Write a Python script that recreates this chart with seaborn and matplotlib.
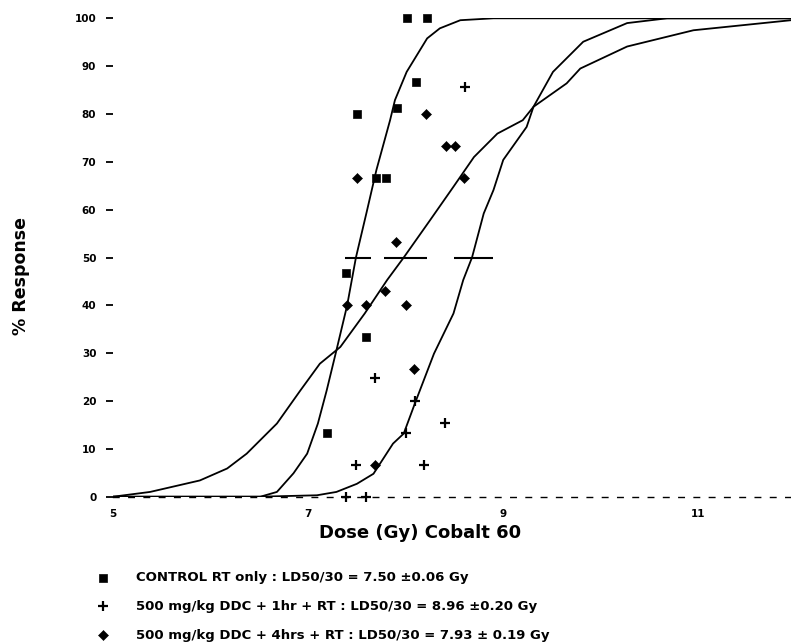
import matplotlib
matplotlib.use("Agg")
import matplotlib.pyplot as plt
import seaborn as sns

# observed points (dose in Gy, % response)
ctrl_dose = [8.01, 8.22, 8.11, 7.91, 7.50, 7.70, 7.80, 7.39, 7.59, 7.19]
ctrl_resp = [100, 100, 86.7, 81.2, 80.0, 66.7, 66.7, 46.7, 33.3, 13.3]

h1_dose = [8.61, 7.69, 8.10, 8.40, 8.00, 7.49, 8.19, 7.39, 7.59]
h1_resp = [85.7, 24.8, 20.0, 15.4, 13.3, 6.7, 6.7, 0, 0]

h4_dose = [8.21, 8.41, 8.51, 7.50, 8.60, 7.90, 7.79, 7.40, 7.59, 8.00, 8.09, 7.69]
h4_resp = [80.0, 73.3, 73.3, 66.7, 66.7, 53.3, 42.9, 40.0, 40.0, 40.0, 26.7, 6.7]

# fitted curves
ctrl_fit_x = [5.0, 6.0, 6.51, 6.68, 6.85, 6.99, 7.10, 7.19, 7.29, 7.40, 7.49, 7.60,
              7.70, 7.84, 7.89, 8.01, 8.22, 8.35, 8.56, 8.90, 11.95]
ctrl_fit_y = [0, 0, 0, 1.0, 4.9, 9.0, 15.3, 22.2, 30.6, 40.0, 50.0, 59.5,
              68.3, 78.7, 82.9, 88.8, 95.8, 97.9, 99.6, 100, 100]

h4_fit_x = [5.0, 5.38, 5.89, 6.17, 6.37, 6.68, 6.92, 7.12, 7.33, 7.58, 7.81, 7.98,
            8.25, 8.49, 8.70, 8.94, 9.20, 9.31, 9.65, 9.79, 10.27, 10.95, 11.95]
h4_fit_y = [0, 1.0, 3.4, 5.9, 9.0, 15.3, 22.2, 27.8, 31.3, 38.3, 45.3, 50.0,
            57.8, 64.8, 71.0, 75.9, 78.7, 81.5, 86.4, 89.5, 94.1, 97.5, 99.6]

h1_fit_x = [5.0, 6.5, 7.09, 7.29, 7.50, 7.67, 7.87, 7.98, 8.10, 8.29, 8.49, 8.59,
            8.68, 8.80, 8.90, 9.00, 9.24, 9.31, 9.51, 9.82, 10.27, 10.68, 11.95]
h1_fit_y = [0, 0, 0.3, 1.0, 2.7, 4.8, 11.1, 13.2, 19.8, 29.9, 38.3, 45.3,
            50.0, 59.2, 64.1, 70.4, 77.3, 81.5, 88.8, 95.1, 99.0, 100, 100]

# LD50 bars at the 50% level
ld50_lo = [7.38, 7.78, 8.50]
ld50_hi = [7.64, 8.22, 8.90]

labels = [
    "CONTROL RT only : LD50/30 = 7.50 \u00b10.06 Gy",
    "500 mg/kg DDC + 1hr + RT : LD50/30 = 8.96 \u00b10.20 Gy",
    "500 mg/kg DDC + 4hrs + RT : LD50/30 = 7.93 \u00b1 0.19 Gy",
]

sns.set_theme(style="white")
plt.rcParams["font.family"] = ["DejaVu Sans"]
plt.rcParams["font.weight"] = "bold"
plt.rcParams["text.color"] = "black"

fig = plt.figure(figsize=(7.91, 6.42), dpi=100)
ax = fig.add_axes([0.1429, 0.2263, 0.8571, 0.7452])

for fx, fy in [(ctrl_fit_x, ctrl_fit_y), (h4_fit_x, h4_fit_y), (h1_fit_x, h1_fit_y)]:
    sns.lineplot(x=fx, y=fy, ax=ax, color="black", linewidth=1.3,
                 sort=False, estimator=None)

ax.hlines([50] * len(ld50_lo), ld50_lo, ld50_hi, color="black", linewidth=1.5)

sns.scatterplot(x=ctrl_dose, y=ctrl_resp, ax=ax, marker="s", s=36, color="black",
                edgecolor="black", label=labels[0], clip_on=False, zorder=3)
sns.scatterplot(x=h1_dose, y=h1_resp, ax=ax, marker="+", s=55, color="black",
                linewidth=1.6, label=labels[1], clip_on=False, zorder=3)
sns.scatterplot(x=h4_dose, y=h4_resp, ax=ax, marker="D", s=26, color="black",
                edgecolor="black", label=labels[2], clip_on=False, zorder=3)

ax.set_xlim(5, 11.95)
ax.set_ylim(0, 100)
ax.set_xticks([5, 7, 9, 11])
ax.set_yticks(range(0, 101, 10))
ax.set_xlabel("")
ax.set_ylabel("")

for side in ["top", "right", "left"]:
    ax.spines[side].set_visible(False)
ax.spines["bottom"].set_color("black")
ax.spines["bottom"].set_linewidth(1.0)
ax.spines["bottom"].set_linestyle((0, (4, 7)))

ax.tick_params(axis="y", left=True, length=5, width=1.3, pad=7, labelsize=7.5,
               color="black", labelcolor="black")
ax.tick_params(axis="x", bottom=False, length=0, pad=9, labelsize=7.5,
               labelcolor="black")

fig.text(420 / 791, 1 - 533 / 642, "Dose (Gy) Cobalt 60", ha="center", va="center",
         fontsize=13, fontweight="bold")
fig.text(21 / 791, 1 - 276 / 642, "% Response", ha="center", va="center",
         rotation=90, fontsize=12.5, fontweight="bold")

ax.legend(loc="upper left", bbox_to_anchor=(96 / 791, 1 - 571 / 642),
          bbox_transform=fig.transFigure, frameon=False, fontsize=9.5,
          handlelength=1.0, handletextpad=2.0, labelspacing=1.2,
          borderaxespad=0, borderpad=0)

fig.savefig("out.png", dpi=100)
